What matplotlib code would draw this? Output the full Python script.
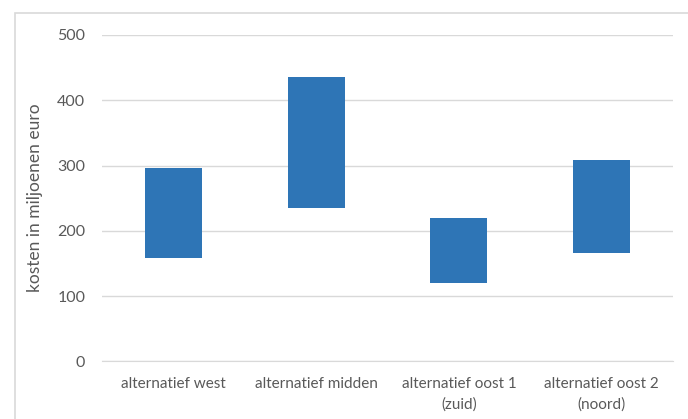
import matplotlib
matplotlib.use("Agg")
import matplotlib.pyplot as plt
from matplotlib.patches import Rectangle

categories = ["alternatief west", "alternatief midden", "alternatief oost 1\n(zuid)", "alternatief oost 2\n(noord)"]
low = [158, 235, 120, 166]
high = [296, 435, 220, 308]
yticks = [0, 100, 200, 300, 400, 500]

plt.rcParams['font.family'] = ['Lato', 'DejaVu Sans']
text_color = "#595959"
grid_color = "#d9d9d9"
bar_color = "#2e75b6"

fig = plt.figure(figsize=(6.88, 4.19), dpi=100)
fig.patch.set_facecolor("white")
# outer chart frame
fig.patches.append(Rectangle((15 / 688, -0.05), 1.0, 1 - 13 / 419 + 0.05,
                             transform=fig.transFigure, fill=False,
                             edgecolor=grid_color, linewidth=1.2))

ax = fig.add_axes([102 / 688, 1 - 361.3 / 419, (673 - 102) / 688, (361.3 - 35) / 419])
x = range(len(categories))
heights = [h - l for h, l in zip(high, low)]
ax.bar(x, heights, bottom=low, width=0.4, color=bar_color, zorder=3)

ax.set_xlim(-0.5, len(categories) - 0.5)
ax.set_ylim(0, 500)
ax.set_yticks(yticks)
ax.set_yticklabels([str(t) for t in yticks])
ax.set_xticks(list(x))
ax.set_xticklabels(categories)
ax.grid(axis="y", color=grid_color, linewidth=1, zorder=0)
for s in ["top", "right", "left"]:
    ax.spines[s].set_visible(False)
ax.spines["bottom"].set_color(grid_color)
ax.tick_params(axis="both", length=0, colors=text_color, labelsize=11)
ax.tick_params(axis="y", pad=12, labelsize=11.5)
ax.tick_params(axis="x", pad=11)
for lbl in ax.get_xticklabels():
    lbl.set_linespacing(1.6)
ax.set_ylabel("kosten in miljoenen euro", color=text_color, fontsize=12.5, labelpad=10)

fig.savefig("out.png", dpi=100, facecolor="white")
